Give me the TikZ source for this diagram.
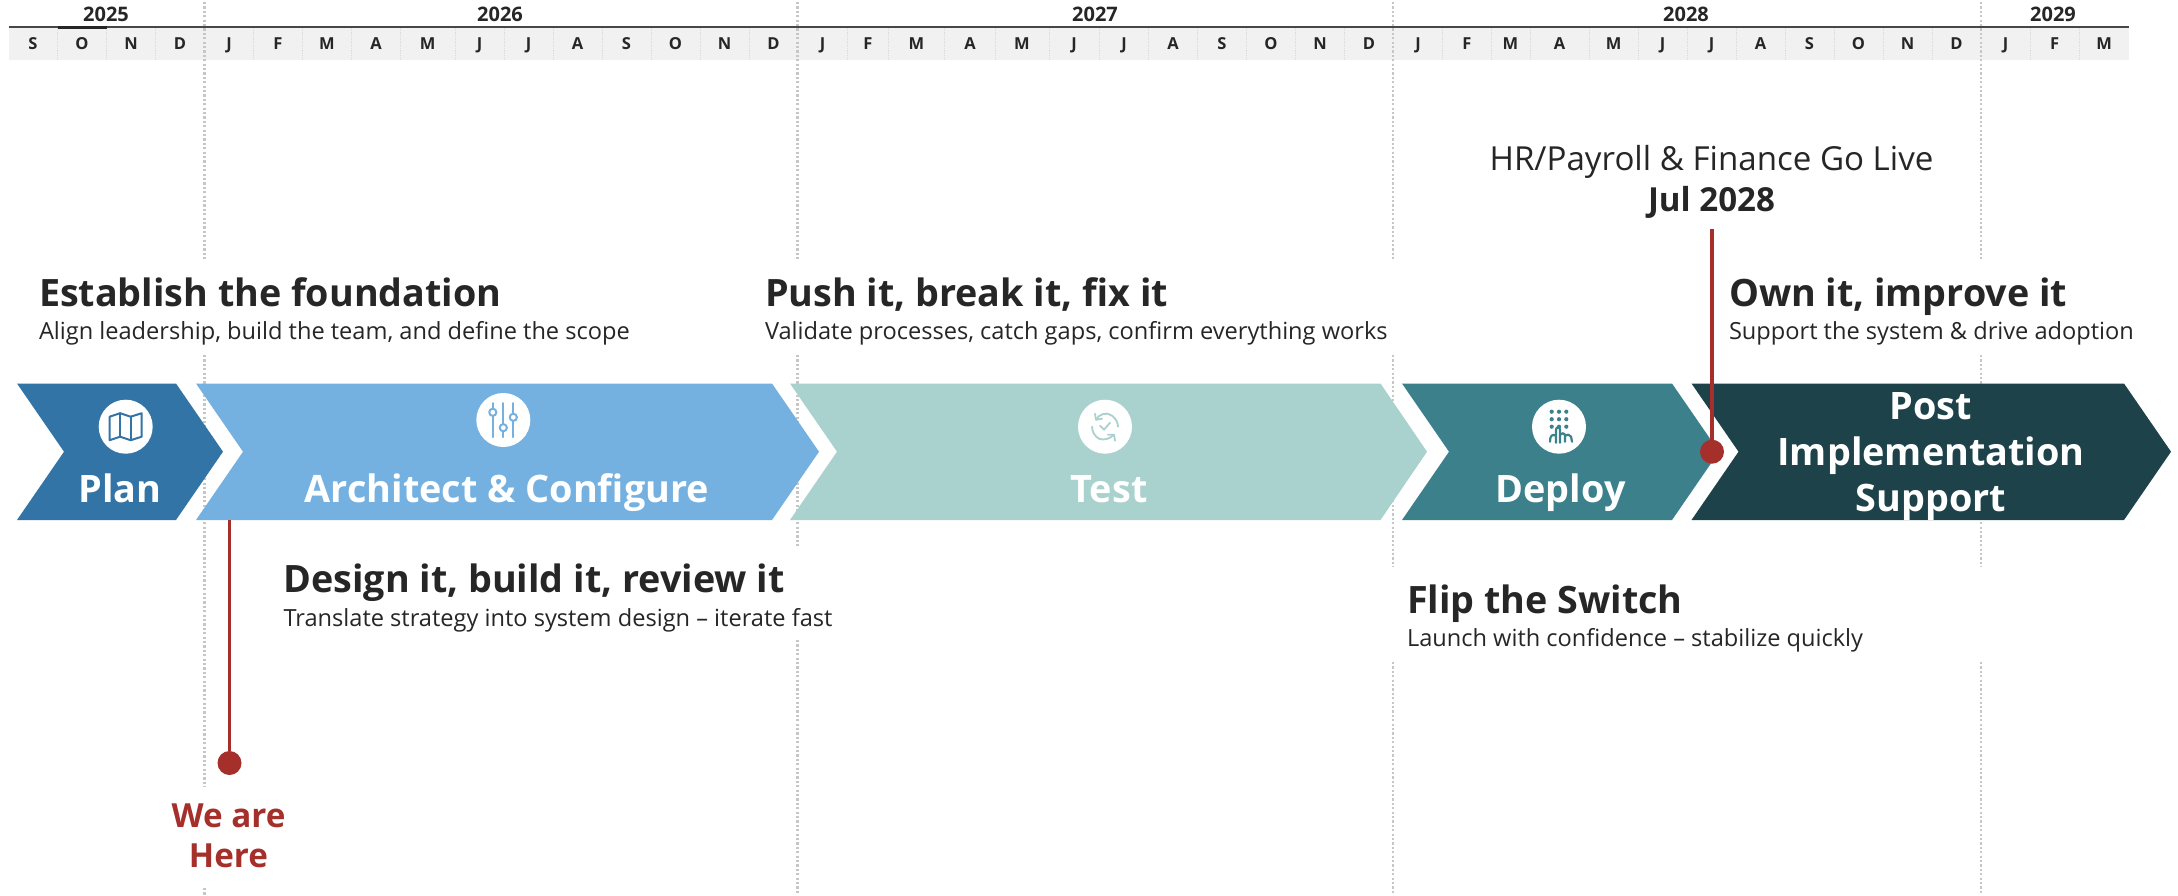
\documentclass[tikz,border=0pt]{standalone}
\usepackage{fontspec}
\setmainfont{Open Sans}
\definecolor{inkc}{HTML}{262626}
\definecolor{redc}{HTML}{A52F2A}
\definecolor{planc}{HTML}{3374A6}
\definecolor{archc}{HTML}{75B1E0}
\definecolor{testc}{HTML}{A9D2CF}
\definecolor{depc}{HTML}{3C808C}
\definecolor{postc}{HTML}{1D4249}
\definecolor{bandc}{HTML}{F1F1F1}
\definecolor{sepc}{HTML}{DADADA}
\definecolor{guidec}{HTML}{C6C6C6}
\tikzset{
  txt/.style={inner sep=0pt,outer sep=0pt,text=inkc},
  head/.style={txt,anchor=base west,font=\fontsize{37.7}{38}\selectfont\bfseries},
  subh/.style={txt,anchor=base west,font=\fontsize{23.6}{25}\selectfont},
  mon/.style={txt,font=\fontsize{16.5}{17}\selectfont\bfseries,anchor=base},
  yr/.style={txt,font=\fontsize{20}{20}\selectfont\bfseries,anchor=base},
  chevlab/.style={inner sep=0pt,outer sep=0pt,text=white,anchor=base,font=\fontsize{37.8}{38}\selectfont\bfseries},
  guide/.style={guidec,line width=2.2pt,dash pattern=on 2.2pt off 2.2pt},
  badge/.style={circle,fill=white,minimum size=54pt,inner sep=0pt,outer sep=0pt},
  redline/.style={redc,line width=3.6pt},
  reddot/.style={circle,fill=redc,minimum size=24pt,inner sep=0pt,outer sep=0pt},
  ico/.style={line width=2pt,line cap=round,line join=round},
}
% name, left x, notch x, right-top x, tip x, colour
\newcommand{\chevron}[6]{%
  \fill[#6] (#2,383.5) -- (#4,383.5) -- (#5,451.7) -- (#4,520) -- (#2,520) -- (#3,451.7) -- cycle;
  \coordinate (#1) at (#3,451.7);
}
\begin{document}
\begin{tikzpicture}[x=1pt,y=-1pt]
\useasboundingbox (0,0) rectangle (2178,895);
\fill[white] (0,0) rectangle (2178,895);
% month band
\fill[bandc] (8.7,28) rectangle (2128.5,60);
\foreach \x in {57.6,106.6,155.6,253.6,302.5,351.5,400.5,455,504,553,602,651,700,749,847,888.5,944.7,995.6,1049,1099.6,1148.3,1197.4,1246,1295.6,1344,1442.5,1491,1530,1589,1638.5,1687,1736,1785,1834,1883,1932,2030,2079}
  \draw[sepc,line width=.8pt,densely dotted] (\x,28) -- (\x,60);
\draw[inkc!85,line width=1.8pt] (8.7,27) -- (2128.5,27);
\draw[inkc,line width=3pt] (57.6,27) -- (106.6,27);
% guides
\foreach \x in {204.5,797.5,1393.3,1981} \draw[guide] (\x,2) -- (\x,260);
\draw[guide] (204.5,355) -- (204.5,787);
\draw[guide] (204.5,888) -- (204.5,895);
\draw[guide] (797.5,355) -- (797.5,547);
\draw[guide] (797.5,640) -- (797.5,895);
\foreach \x in {1393.3,1981} {
  \draw[guide] (\x,355) -- (\x,567);
  \draw[guide] (\x,662) -- (\x,895);
}
% months
\foreach \c/\l [count=\i] in {33/S,82/O,131/N,180/D,229/J,278/F,327/M,376/A,427.7/M,479.5/J,528.5/J,577.5/A,626.5/S,675.5/O,724.5/N,773.5/D,822.5/J,868/F,916.5/M,970/A,1022/M,1074/J,1124/J,1173/A,1222/S,1271/O,1320/N,1369/D,1418/J,1467/F,1510.5/M,1559.5/A,1613.7/M,1662.7/J,1711.5/J,1760.5/A,1809.5/S,1858.5/O,1907.5/N,1956.5/D,2005.5/J,2054.5/F,2104/M}
  \node[mon] (m\i) at (\c,49.5) {\l};
% years
\node[yr] (y25) at (106,21) {2025};
\node[yr] (y26) at (500,21) {2026};
\node[yr] (y27) at (1095,21) {2027};
\node[yr] (y28) at (1686,21) {2028};
\node[yr] (y29) at (2053,21) {2029};
% chevrons
\chevron{cplan}{17}{64}{176}{223}{planc}
\chevron{carch}{196}{243}{772}{819}{archc}
\chevron{ctest}{790}{837}{1380.5}{1427}{testc}
\chevron{cdep}{1402}{1449}{1672}{1719}{depc}
\chevron{cpost}{1691.5}{1738.5}{2124}{2171}{postc}
% chevron labels
\node[chevlab] (lplan) at (120,502) {Plan};
\node[chevlab] (larch) at (507,502) {Architect \& Configure};
\node[chevlab] (ltest) at (1109,502) {Test};
\node[chevlab] (ldep) at (1560.6,502) {Deploy};
\node[chevlab,anchor=center,align=center,font=\fontsize{37.8}{46}\selectfont\bfseries] (lpost) at (1931,456.5) {Post\\Implementation\\Support};
% icons
\node[badge] (iplan) at (125.7,426.7) {};
\begin{scope}[shift={(iplan.center)},planc,ico]
  \draw (-16,-10) -- (-5.5,-13.5) -- (5,-10) -- (16,-13.5) -- (16,10) -- (5,13.5) -- (-5.5,10) -- (-16,13.5) -- cycle;
  \draw (-5.5,-13.5) -- (-5.5,10) (5,-10) -- (5,13.5);
\end{scope}
\node[badge] (iarch) at (503.3,420) {};
\begin{scope}[shift={(iarch.center)},archc,ico]
  \draw (-10.5,-17) -- (-10.5,17) (0,-17) -- (0,17) (10,-17) -- (10,17);
  \filldraw[fill=white] (-10.5,-7.7) circle (3.6pt) (0,7.7) circle (3.6pt) (10,-2.7) circle (3.6pt);
\end{scope}
\node[badge] (itest) at (1105,426.7) {};
\begin{scope}[shift={(itest.center)},testc,ico,line width=1.8pt]
  \draw (-9,-7) .. controls (-6,-13) and (2,-15) .. (7,-11) .. controls (11,-8) and (13,-4) .. (13,0);
  \draw (-10,-13) -- (-9,-7) -- (-3,-8);
  \draw (-13,0) .. controls (-13,5) and (-10,10) .. (-6,12) .. controls (-1,14) and (5,12) .. (9,8);
  \draw (3,8) -- (9,8) -- (10,14);
  \draw (-5,-1) -- (-1,3) -- (5,-4);
\end{scope}
\node[badge] (idep) at (1559,426.7) {};
\begin{scope}[shift={(idep.center)},depc]
  \foreach \a in {-7.3,0,7.3} \foreach \b in {-15,-7.5,0} \fill (\a,\b) circle (2.1pt);
  \draw[ico,line width=2.2pt] (-9,15) .. controls (-9,9) and (-7,7) .. (-3,9);
  \draw[ico,line width=2.2pt] (-3,16) -- (-3,3) .. controls (-3,0) and (1,0) .. (1,3) -- (1,16);
  \draw[ico,line width=2.2pt] (1,8) .. controls (3,6) and (5,6) .. (6,8) -- (6,15);
  \draw[ico,line width=2.2pt] (6,9) .. controls (8,7) and (11,8) .. (12,10) -- (13,15);
\end{scope}
% headings
\node[head] (h1) at (39,306.5) {Establish the foundation};
\node[subh] (s1) at (39,339.5) {Align leadership, build the team, and define the scope};
\node[head] (h2) at (765,306.5) {Push it, break it, fix it};
\node[subh] (s2) at (765,339.5) {Validate processes, catch gaps, confirm everything works};
\node[head] (h3) at (1729,306.5) {Own it, improve it};
\node[subh] (s3) at (1729,339.5) {Support the system \& drive adoption};
\node[head] (h4) at (283.5,592.5) {Design it, build it, review it};
\node[subh] (s4) at (283.5,626) {Translate strategy into system design – iterate fast};
\node[head] (h5) at (1407,613) {Flip the Switch};
\node[subh] (s5) at (1407,646) {Launch with confidence – stabilize quickly};
% markers
\coordinate (goTop) at (1712,229);
\coordinate (hereTop) at (229.5,520);
\node[reddot] (goDot) at (1712,451.7) {};
\node[reddot] (hereDot) at (229.5,763) {};
\draw[redline] (goTop) -- (goDot);
\draw[redline] (hereTop) -- (hereDot);
\node[txt,anchor=center,align=center,font=\fontsize{33.1}{41}\selectfont] (goLab) at (1711.5,182) {HR/Payroll \& Finance Go Live\\\textbf{Jul 2028}};
\node[anchor=center,inner sep=0pt,outer sep=0pt,align=center,text=redc,font=\fontsize{33.2}{40}\selectfont\bfseries] (hereLab) at (228.5,836) {We are\\Here};
\end{tikzpicture}
\end{document}
